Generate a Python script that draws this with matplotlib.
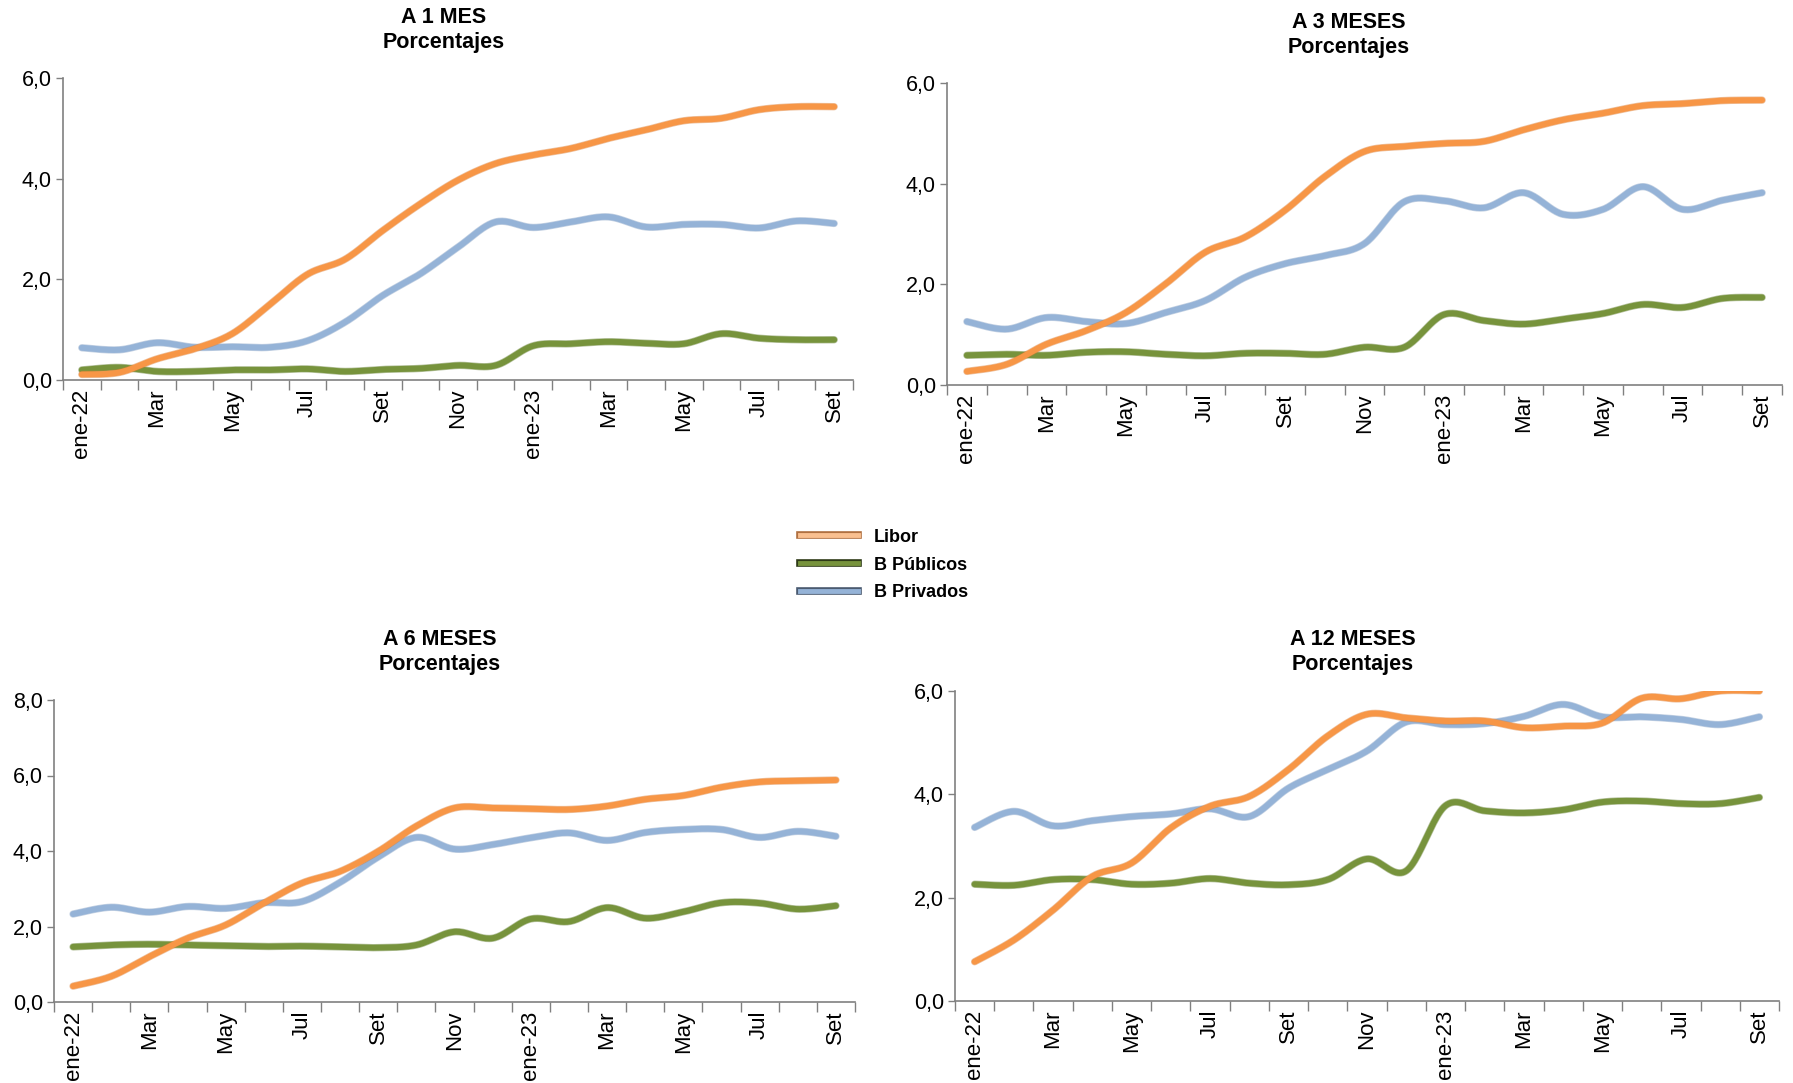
import numpy as np
import matplotlib
matplotlib.use("Agg")
import matplotlib.pyplot as plt
import matplotlib.patheffects as pe
from matplotlib.lines import Line2D
from matplotlib import font_manager

names = {f.name for f in font_manager.fontManager.ttflist}
NARROW = "Liberation Sans Narrow" if "Liberation Sans Narrow" in names else "Liberation Sans"
REG = "Liberation Sans"

months = ["ene-22", "Feb", "Mar", "Abr", "May", "Jun", "Jul", "Ago", "Set", "Oct", "Nov", "Dic",
          "ene-23", "Feb", "Mar", "Abr", "May", "Jun", "Jul", "Ago", "Set"]
series_names = ["Libor", "B Públicos", "B Privados"]

# A 1 MES
libor_1m = [0.11, 0.15, 0.42, 0.62, 0.92, 1.50, 2.10, 2.40, 2.97, 3.50, 3.97, 4.30, 4.47, 4.60,
            4.80, 4.97, 5.15, 5.20, 5.37, 5.43, 5.43]
pub_1m = [0.20, 0.25, 0.17, 0.17, 0.20, 0.20, 0.22, 0.17, 0.21, 0.23, 0.29, 0.29, 0.68, 0.72,
          0.76, 0.73, 0.72, 0.92, 0.83, 0.80, 0.80]
priv_1m = [0.64, 0.60, 0.74, 0.65, 0.66, 0.65, 0.78, 1.15, 1.68, 2.11, 2.64, 3.14, 3.03, 3.14,
           3.24, 3.04, 3.09, 3.09, 3.02, 3.16, 3.11]

# A 3 MESES
libor_3m = [0.27, 0.41, 0.81, 1.08, 1.44, 2.01, 2.64, 2.94, 3.47, 4.14, 4.64, 4.74, 4.80, 4.84,
            5.07, 5.27, 5.40, 5.55, 5.59, 5.65, 5.66]
pub_3m = [0.59, 0.61, 0.59, 0.65, 0.66, 0.61, 0.58, 0.63, 0.63, 0.61, 0.75, 0.75, 1.40, 1.28,
          1.21, 1.31, 1.42, 1.60, 1.54, 1.72, 1.74]
priv_3m = [1.26, 1.11, 1.34, 1.26, 1.22, 1.44, 1.68, 2.14, 2.41, 2.57, 2.81, 3.64, 3.66, 3.52,
           3.82, 3.39, 3.49, 3.94, 3.49, 3.67, 3.82]

# A 6 MESES
libor_6m = [0.42, 0.68, 1.20, 1.69, 2.04, 2.62, 3.15, 3.46, 3.99, 4.66, 5.14, 5.14, 5.12, 5.10,
            5.19, 5.37, 5.47, 5.69, 5.83, 5.86, 5.88]
pub_6m = [1.46, 1.51, 1.53, 1.51, 1.49, 1.47, 1.48, 1.46, 1.44, 1.51, 1.86, 1.69, 2.20, 2.13,
          2.50, 2.22, 2.39, 2.63, 2.62, 2.46, 2.55]
priv_6m = [2.33, 2.51, 2.38, 2.53, 2.48, 2.63, 2.66, 3.17, 3.84, 4.36, 4.05, 4.17, 4.35, 4.48,
           4.28, 4.49, 4.57, 4.57, 4.36, 4.52, 4.39]

# A 12 MESES
libor_12m = [0.76, 1.18, 1.76, 2.41, 2.67, 3.35, 3.77, 3.96, 4.48, 5.13, 5.55, 5.48, 5.42, 5.42,
             5.29, 5.32, 5.38, 5.86, 5.85, 6.00, 6.00]
pub_12m = [2.26, 2.24, 2.35, 2.35, 2.26, 2.28, 2.37, 2.28, 2.25, 2.35, 2.75, 2.52, 3.78, 3.68,
           3.64, 3.70, 3.85, 3.87, 3.82, 3.82, 3.94]
priv_12m = [3.36, 3.67, 3.39, 3.49, 3.57, 3.62, 3.72, 3.57, 4.12, 4.48, 4.84, 5.40, 5.35, 5.37,
            5.51, 5.74, 5.50, 5.50, 5.45, 5.35, 5.50]

colors = ["#F79646", "#77933C", "#95B3D7"]
edge_colors = ["#D9782E", "#5E7A2A", "#7D9BC1"]

W, H = 1793, 1083
fig = plt.figure(figsize=(W / 100, H / 100), dpi=100)


def smooth(y, n=24):
    x = np.arange(len(y), dtype=float)
    y = np.asarray(y, dtype=float)
    pts = np.column_stack([x, y])
    out = [pts[0]]
    for i in range(len(pts) - 1):
        p0 = pts[i - 1] if i > 0 else pts[i]
        p1 = pts[i]
        p2 = pts[i + 1]
        p3 = pts[i + 2] if i + 2 < len(pts) else pts[i + 1]
        c1 = p1 + (p2 - p0) / 6.0
        c2 = p2 - (p3 - p1) / 6.0
        t = np.linspace(0, 1, n)[1:, None]
        seg = ((1 - t) ** 3) * p1 + 3 * ((1 - t) ** 2) * t * c1 + 3 * (1 - t) * t ** 2 * c2 + t ** 3 * p2
        out.extend(seg)
    out = np.array(out)
    return out[:, 0], out[:, 1]


def box(l, r, t, b):
    return [l / W, 1 - b / H, (r - l) / W, (b - t) / H]


panels = [
    (box(63, 853, 78, 380), [libor_1m, pub_1m, priv_1m], 6, "A 1 MES", (444, 30)),
    (box(947, 1782, 83, 385), [libor_3m, pub_3m, priv_3m], 6, "A 3 MESES", (1349, 35)),
    (box(54, 855, 700, 1002), [libor_6m, pub_6m, priv_6m], 8, "A 6 MESES", (440, 652)),
    (box(955, 1779, 691, 1001), [libor_12m, pub_12m, priv_12m], 6, "A 12 MESES", (1353, 652)),
]

for rect, data, ymax, title, tpos in panels:
    ax = fig.add_axes(rect)
    for k, vals in enumerate(data):
        xs, ys = smooth(vals)
        ax.plot(xs, ys, color=colors[k], lw=4.3, solid_capstyle="round", zorder=3 + (k == 0),
                clip_on=True,
                path_effects=[pe.Stroke(linewidth=5.3, foreground=edge_colors[k], alpha=0.45), pe.Normal()])
    ax.set_xlim(-0.5, len(months) - 0.5)
    ax.set_ylim(0, ymax)
    ax.set_yticks(np.arange(0, ymax + 0.1, 2))
    ax.set_yticklabels([f"{v:.1f}".replace(".", ",") for v in np.arange(0, ymax + 0.1, 2)],
                       fontname=NARROW, fontsize=15.5)
    ax.set_xticks(range(0, len(months), 2))
    ax.set_xticklabels([months[i] for i in range(0, len(months), 2)], rotation=90,
                       fontname=REG, fontsize=16)
    ax.set_xticks(np.arange(-0.5, len(months), 1), minor=True)
    ax.tick_params(axis="x", which="major", length=0, pad=6)
    ax.tick_params(axis="x", which="minor", length=7, width=1, color="#808080", direction="out")
    ax.tick_params(axis="y", length=5, width=1, color="#808080", direction="out", pad=3)
    for s in ["top", "right"]:
        ax.spines[s].set_visible(False)
    for s in ["left", "bottom"]:
        ax.spines[s].set_color("#808080")
        ax.spines[s].set_linewidth(1.2)
    ax.patch.set_alpha(0)
    fig.text(tpos[0] / W, 1 - tpos[1] / H, title + "\nPorcentajes", ha="center", va="center",
             fontname=NARROW, fontweight="bold", fontsize=15.5, linespacing=1.3)

# Legend
legend_colors = ["#FAC090", "#77933C", "#95B3D7"]
legend_edges = ["#B07040", "#2E3A17", "#4A5A70"]
handles = [Line2D([], [], color=legend_colors[k], lw=3.5,
                  path_effects=[pe.Stroke(linewidth=5.5, foreground=legend_edges[k]), pe.Normal()])
           for k in range(3)]
leg = fig.legend(handles, series_names, loc="center", bbox_to_anchor=(884 / W, 1 - 565 / H),
                 frameon=False, handlelength=3.2, handletextpad=0.9, labelspacing=0.6,
                 prop={"family": NARROW, "weight": "bold", "size": 13})

fig.savefig("out.png", dpi=100)
